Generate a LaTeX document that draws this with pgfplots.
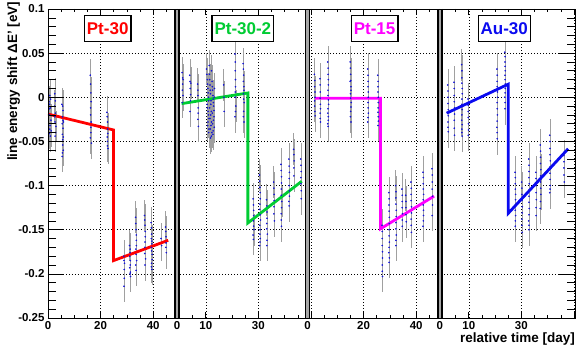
\documentclass[border=0pt]{standalone}
\usepackage{fontspec}
\setmainfont{Liberation Sans}
\usepackage{pgfplots}
\pgfplotsset{compat=1.18}
\definecolor{cRed}{RGB}{255,0,0}
\definecolor{cGreen}{RGB}{0,204,51}
\definecolor{cMag}{RGB}{255,0,255}
\definecolor{cBlue}{RGB}{10,10,240}
\definecolor{cDot}{RGB}{20,20,215}
\definecolor{cErr}{RGB}{160,160,160}

\pgfplotsset{
  pts/.style={only marks, mark=*, mark size=0.6pt, color=cDot,
    mark options={draw=none, fill=cDot},
    error bars/.cd, y dir=both, y fixed=0.018, error mark=none,
    error bar style={cErr, line width=0.35pt}},
  fit/.style={line width=2.8pt, line join=miter},
}
\tikzset{
  lbl/.style={draw=black, line width=1.2pt, fill=white, inner xsep=2.5pt,
    minimum height=26pt, font=\fontsize{17}{19}\selectfont\bfseries},
  sep/.style={line width=1.8pt},
}

\begin{document}
\begin{tikzpicture}
\begin{axis}[
  scale only axis, width=527pt, height=309pt,
  xmin=0, xmax=200.4, ymin=-0.25, ymax=0.1,
  xtick={0,20,40,60,80,100,120,140,160,180,200},
  xticklabels={0,20,40,10,30,,20,40,10,30,},
  minor x tick num=3,
  extra x ticks={49.05,98.67,148.95},
  extra x tick labels={0,0,0},
  extra x tick style={grid=none},
  ytick={-0.25,-0.2,-0.15,-0.1,-0.05,0,0.05,0.1},
  yticklabels={-0.25,-0.2,-0.15,-0.1,-0.05,0,0.05,0.1},
  minor y tick num=4,
  tick align=inside,
  major tick length=6pt, minor tick length=3pt,
  xmajorgrids, ymajorgrids,
  major grid style={black, line width=0.5pt, dash pattern=on 0.8pt off 2.2pt},
  tick style={black, line width=0.6pt},
  axis line style={line width=0.8pt},
  ticklabel style={font=\fontsize{11.5}{13}\selectfont\bfseries},
]
% panel 1
\addplot[pts] coordinates {
 (0.4,-0.005) (0.6,-0.020) (0.8,-0.032) (0.5,-0.041) (0.9,-0.012) (1.1,-0.026) (0.7,0.002) (1.2,-0.038)
 (2.5,-0.010) (2.7,-0.028) (2.9,-0.040) (2.6,0.004) (2.8,-0.018) (3.0,-0.033)
 (5.3,-0.008) (5.5,-0.022) (5.7,-0.035) (5.6,-0.048) (5.8,-0.060) (5.4,-0.067) (5.9,-0.028) (5.5,-0.042) (5.7,-0.015) (5.6,-0.054)
 (16.1,0.025) (16.3,0.005) (16.2,-0.012) (16.4,-0.028) (16.3,-0.040) (16.5,-0.052) (16.2,-0.020)
 (22.4,-0.017) (22.6,-0.028) (22.7,-0.036) (22.5,-0.045) (22.8,-0.058) (22.6,-0.050)
 (28.8,-0.180) (29.0,-0.195) (28.9,-0.214) (29.1,-0.188)
 (31.0,-0.168) (31.2,-0.176) (31.3,-0.185) (31.1,-0.193) (31.4,-0.203) (31.2,-0.172) (31.3,-0.198)
 (33.3,-0.136) (33.5,-0.150) (33.6,-0.162) (33.4,-0.172) (33.7,-0.185) (33.5,-0.196) (33.6,-0.168)
 (36.7,-0.134) (36.9,-0.145) (37.0,-0.158) (36.8,-0.170) (37.1,-0.183) (36.9,-0.190)
 (39.2,-0.142) (39.4,-0.155) (39.5,-0.163) (39.3,-0.170) (39.6,-0.178) (39.4,-0.188) (39.5,-0.195) (39.3,-0.160)
 (43.0,-0.160) (43.2,-0.168)
 (44.7,-0.147) (44.9,-0.158) (44.8,-0.170) (45.0,-0.176)
 (0.5,-0.013) (0.7,-0.036) (0.9,-0.044) (0.6,-0.008) (1.0,-0.002)
 (2.6,-0.022) (2.8,-0.004) (2.7,-0.044)
 (5.4,-0.030) (5.6,-0.010) (5.8,-0.045) (5.5,-0.063) (5.7,-0.026)
 (16.2,0.015) (16.4,-0.005) (16.3,-0.034) (16.1,-0.046)
 (22.5,-0.022) (22.7,-0.041) (22.6,-0.055)
 (28.9,-0.185) (29.0,-0.205)
 (31.1,-0.180) (31.3,-0.190) (31.2,-0.200)
 (33.4,-0.143) (33.6,-0.156) (33.5,-0.178) (33.4,-0.190)
 (36.8,-0.139) (37.0,-0.152) (36.9,-0.164) (36.8,-0.177)
 (39.3,-0.148) (39.5,-0.166) (39.4,-0.174) (39.6,-0.184) (39.3,-0.192)
 (44.8,-0.152) (44.9,-0.165)
};
% panel 2
\addplot[pts] coordinates {
 (51.0,0.028) (51.2,0.015) (51.3,0.002) (51.1,-0.006) (51.4,0.020)
 (53.9,0.025) (54.1,0.010) (54.2,-0.004) (54.0,-0.016) (54.3,0.016)
 (56.9,0.015) (57.0,0.002) (57.1,-0.012) (57.0,-0.025) (57.2,-0.033)
 (60.3,0.032) (60.6,0.020) (60.8,0.010) (61.0,0.000) (60.5,-0.008) (60.9,-0.016) (61.2,-0.024) (60.7,-0.032) (61.1,-0.040)
 (61.4,0.026) (61.6,0.014) (61.8,0.004) (62.0,-0.004) (61.5,-0.012) (61.9,-0.020) (62.2,-0.028) (61.7,-0.036) (62.1,-0.044)
 (62.4,0.018) (62.6,0.008) (62.8,-0.002) (63.0,-0.010) (62.5,-0.018) (62.9,-0.026) (63.2,-0.034) (62.7,-0.042) (63.3,0.010) (63.1,-0.015)
 (66.8,0.014) (66.9,0.000) (67.0,-0.016)
 (71.1,0.049) (71.2,0.030) (71.3,0.012) (71.2,0.000) (71.4,-0.010) (71.1,-0.022)
 (74.2,0.038) (74.4,0.025) (74.5,0.012) (74.3,0.004) (74.6,-0.006) (74.4,-0.016) (74.5,-0.028) (74.3,0.018)
 (78.0,-0.115) (78.2,-0.128) (78.1,-0.140) (78.3,-0.150) (78.1,-0.161)
 (80.4,-0.088) (80.6,-0.102) (80.7,-0.115) (80.5,-0.127) (80.8,-0.139) (80.6,-0.150) (80.7,-0.160) (80.5,-0.168)
 (83.1,-0.116) (83.3,-0.130) (83.2,-0.143) (83.4,-0.155) (83.2,-0.168)
 (85.8,-0.096) (86.0,-0.110) (85.9,-0.124) (86.1,-0.140)
 (88.6,-0.076) (88.8,-0.090) (88.7,-0.104) (88.9,-0.118) (88.7,-0.132) (88.8,-0.146)
 (91.6,-0.070) (91.8,-0.085) (91.7,-0.100) (91.8,-0.112) (91.7,-0.123)
 (93.4,-0.059) (93.6,-0.072) (93.5,-0.089)
 (96.1,-0.070) (96.3,-0.084) (96.2,-0.098) (96.3,-0.115)
 (51.2,0.022) (51.1,0.008)
 (54.0,0.018) (54.2,0.003)
 (57.0,0.008) (57.1,-0.018)
 (60.4,0.026) (60.7,0.015) (60.9,0.005) (61.1,-0.004) (60.6,-0.012) (61.0,-0.020) (60.8,-0.028) (61.2,-0.036)
 (61.5,0.020) (61.7,0.008) (61.9,-0.008) (62.1,-0.016) (61.6,-0.024) (62.0,-0.032) (62.3,-0.040)
 (62.5,0.012) (62.7,0.002) (62.9,-0.006) (63.1,-0.022) (62.6,-0.030) (62.8,-0.038) (63.2,0.000) (62.2,0.030) (61.3,0.036) (61.8,-0.046)
 (71.2,0.040) (71.3,0.020) (71.2,0.006) (71.3,-0.016)
 (74.3,0.032) (74.5,0.008) (74.4,-0.002) (74.3,-0.022)
 (78.1,-0.122) (78.2,-0.134) (78.2,-0.146) (78.0,-0.156)
 (80.5,-0.095) (80.7,-0.108) (80.6,-0.121) (80.7,-0.133) (80.5,-0.145) (80.6,-0.155) (80.6,-0.164)
 (83.2,-0.123) (83.3,-0.137) (83.2,-0.149) (83.3,-0.162)
 (85.9,-0.103) (86.0,-0.117) (85.9,-0.132)
 (88.7,-0.083) (88.8,-0.097) (88.7,-0.111) (88.8,-0.125) (88.7,-0.139)
 (91.7,-0.078) (91.7,-0.092) (91.8,-0.106) (91.6,-0.118)
 (93.5,-0.065) (93.5,-0.080)
 (96.2,-0.077) (96.2,-0.091) (96.3,-0.106)
};
% panel 3
\addplot[pts] coordinates {
 (101.3,0.026) (101.4,0.012) (101.5,0.000) (101.4,-0.010) (101.6,-0.021)
 (103.4,0.021) (103.5,0.006) (103.6,-0.008) (103.5,-0.018) (103.6,-0.028)
 (106.4,0.040) (106.5,0.026) (106.6,0.014) (106.5,0.002) (106.7,-0.008) (106.4,-0.018) (106.6,-0.026) (106.5,-0.033)
 (114.9,0.040) (115.1,0.026) (115.2,0.012) (115.0,0.004) (115.3,-0.006) (115.1,-0.016) (115.2,-0.028) (114.9,0.018)
 (121.6,0.032) (121.7,0.018) (121.8,0.006) (121.7,-0.006) (121.8,-0.018) (121.6,-0.028)
 (125.4,0.025) (125.5,0.012) (125.6,0.000) (125.5,-0.012) (125.6,-0.022) (125.5,-0.032)
 (127.0,-0.145) (127.1,-0.160) (127.2,-0.175) (127.1,-0.190) (127.2,-0.203)
 (129.6,-0.108) (129.7,-0.122) (129.8,-0.136) (129.7,-0.150) (129.8,-0.164) (129.6,-0.176) (129.7,-0.187)
 (132.2,-0.100) (132.3,-0.114) (132.4,-0.128) (132.3,-0.142) (132.4,-0.156) (132.3,-0.168)
 (134.6,-0.104) (134.7,-0.118) (134.8,-0.132) (134.7,-0.146)
 (136.0,-0.111) (136.1,-0.125) (136.2,-0.141)
 (138.0,-0.096) (138.1,-0.110) (138.2,-0.124) (138.1,-0.138) (138.2,-0.153)
 (142.6,-0.085) (142.7,-0.098) (142.8,-0.110) (142.7,-0.122) (142.8,-0.134) (142.6,-0.146) (142.7,-0.104)
 (146.0,-0.081) (146.1,-0.096) (146.2,-0.112) (146.1,-0.134)
 (101.4,0.019) (101.5,0.006) (101.4,-0.004) (101.5,-0.016)
 (103.5,0.014) (103.5,-0.001) (103.6,-0.013) (103.5,-0.024)
 (106.5,0.033) (106.6,0.020) (106.5,0.008) (106.6,-0.003) (106.5,-0.013) (106.6,-0.022) (106.4,-0.030)
 (115.0,0.033) (115.1,0.019) (115.2,0.008) (115.1,-0.001) (115.2,-0.011) (115.0,-0.022)
 (121.7,0.025) (121.7,0.012) (121.8,0.000) (121.7,-0.012) (121.7,-0.023)
 (125.5,0.018) (125.5,0.006) (125.6,-0.006) (125.5,-0.017) (125.6,-0.027)
 (127.1,-0.152) (127.1,-0.168) (127.2,-0.182) (127.1,-0.197)
 (129.7,-0.115) (129.7,-0.129) (129.8,-0.143) (129.7,-0.157) (129.7,-0.170) (129.8,-0.182)
 (132.3,-0.107) (132.3,-0.121) (132.4,-0.135) (132.3,-0.149) (132.3,-0.162)
 (134.7,-0.111) (134.7,-0.125) (134.7,-0.139)
 (136.1,-0.118) (136.1,-0.133)
 (138.1,-0.103) (138.1,-0.117) (138.2,-0.131) (138.1,-0.145)
 (142.7,-0.091) (142.7,-0.116) (142.8,-0.128) (142.7,-0.140)
 (146.1,-0.088) (146.1,-0.104) (146.2,-0.122)
};
% panel 4
\addplot[pts] coordinates {
 (152.0,0.014) (152.1,0.000) (152.2,-0.014) (152.1,-0.028) (152.2,-0.039)
 (154.4,0.017) (154.5,0.002) (154.6,-0.012) (154.5,-0.026) (154.6,-0.043)
 (157.3,0.037) (157.4,0.022) (157.5,0.010) (157.4,-0.002) (157.5,-0.014) (157.3,-0.026) (157.4,-0.036) (157.5,-0.044)
 (159.7,-0.002) (159.8,-0.016) (159.9,-0.030) (159.8,-0.043)
 (170.7,0.032) (170.8,0.018) (170.9,0.006) (170.8,-0.006) (170.9,-0.020) (170.7,-0.034) (170.8,-0.047)
 (173.7,0.051) (173.8,0.040) (173.9,0.030) (173.8,0.020) (173.9,0.010) (173.7,0.000) (173.8,-0.013)
 (177.6,-0.085) (177.7,-0.098) (177.8,-0.110) (177.7,-0.122) (177.8,-0.134) (177.7,-0.146)
 (180.1,-0.096) (180.2,-0.110) (180.3,-0.124) (180.2,-0.138) (180.3,-0.153)
 (182.8,-0.070) (182.9,-0.084) (183.0,-0.098) (182.9,-0.112) (183.0,-0.126) (182.8,-0.140) (182.9,-0.150)
 (185.5,-0.085) (185.6,-0.100) (185.7,-0.116) (185.6,-0.134)
 (187.2,-0.054) (187.3,-0.068) (187.4,-0.082) (187.3,-0.096) (187.4,-0.110) (187.2,-0.126) (187.3,-0.075)
 (190.8,-0.043) (190.9,-0.058) (191.0,-0.072) (190.9,-0.086) (191.0,-0.100) (190.8,-0.108)
 (196.1,-0.066) (196.2,-0.080) (196.3,-0.096)
 (152.1,0.007) (152.1,-0.007) (152.2,-0.021) (152.1,-0.034)
 (154.5,0.010) (154.5,-0.005) (154.6,-0.019) (154.5,-0.035)
 (157.4,0.030) (157.4,0.016) (157.5,0.004) (157.4,-0.008) (157.4,-0.020) (157.5,-0.031) (157.4,-0.040)
 (159.8,-0.009) (159.8,-0.023) (159.9,-0.037)
 (170.8,0.025) (170.8,0.012) (170.9,0.000) (170.8,-0.013) (170.8,-0.027) (170.8,-0.040)
 (173.8,0.046) (173.8,0.035) (173.8,0.025) (173.9,0.015) (173.8,0.005) (173.8,-0.006)
 (177.7,-0.091) (177.7,-0.104) (177.8,-0.116) (177.7,-0.128) (177.7,-0.140)
 (180.2,-0.103) (180.2,-0.117) (180.3,-0.131) (180.2,-0.145)
 (182.9,-0.077) (182.9,-0.091) (183.0,-0.105) (182.9,-0.119) (182.9,-0.133) (182.9,-0.145)
 (185.6,-0.092) (185.6,-0.108) (185.6,-0.125)
 (187.3,-0.061) (187.3,-0.089) (187.4,-0.103) (187.3,-0.118)
 (190.9,-0.050) (190.9,-0.065) (190.9,-0.079) (190.9,-0.093) (190.9,-0.104)
 (196.2,-0.073) (196.2,-0.088)
};
% fitted steps
\addplot[fit, cRed] coordinates {(0,-0.019) (24.9,-0.037) (24.9,-0.185) (45.7,-0.162)};
\addplot[fit, cGreen] coordinates {(50.8,-0.0072) (76.0,0.0049) (76.0,-0.1424) (96.5,-0.0951)};
\addplot[fit, cMag] coordinates {(101.5,-0.001) (126.4,-0.001) (126.4,-0.149) (146.8,-0.112)};
\addplot[fit, cBlue] coordinates {(151.6,-0.018) (175.0,0.0148) (175.0,-0.1315) (197.8,-0.0583)};
% panel separators
\fill[black!35] (axis cs:48.3,-0.25) rectangle (axis cs:49.8,0.1);
\draw[sep] (axis cs:48.3,-0.25) -- (axis cs:48.3,0.1);
\draw[sep] (axis cs:49.8,-0.25) -- (axis cs:49.8,0.1);
\fill[black!35] (axis cs:97.92,-0.25) rectangle (axis cs:99.42,0.1);
\draw[sep] (axis cs:97.92,-0.25) -- (axis cs:97.92,0.1);
\draw[sep] (axis cs:99.42,-0.25) -- (axis cs:99.42,0.1);
\fill[black!35] (axis cs:148.2,-0.25) rectangle (axis cs:149.7,0.1);
\draw[sep] (axis cs:148.2,-0.25) -- (axis cs:148.2,0.1);
\draw[sep] (axis cs:149.7,-0.25) -- (axis cs:149.7,0.1);
\node[lbl, text=cRed] at (axis cs:22.7,0.078) {Pt-30};
\node[lbl, text=cGreen] at (axis cs:74.1,0.0775) {Pt-30-2};
\node[lbl, text=cMag] at (axis cs:124.2,0.0775) {Pt-15};
\node[lbl, text=cBlue] at (axis cs:173.5,0.0775) {Au-30};
\end{axis}
% longer y ticks, as in the original frame
\begin{axis}[
  scale only axis, width=527pt, height=309pt,
  xmin=0, xmax=200.4, ymin=-0.25, ymax=0.1,
  xtick=\empty,
  ytick={-0.25,-0.2,-0.15,-0.1,-0.05,0,0.05,0.1},
  yticklabels={},
  minor y tick num=4,
  tick align=inside,
  major tick length=16pt, minor tick length=8pt,
  tick style={black, line width=0.6pt},
  axis line style={line width=0.8pt},
]
\end{axis}
\node[rotate=90, anchor=east, inner sep=0pt, font=\fontsize{13.5}{15}\selectfont\bfseries]
  at ([xshift=-34.3pt, yshift=7.3pt]current axis.north west) {line energy shift ΔE' [eV]};
\node[anchor=base east, inner sep=0pt, font=\fontsize{13.5}{15}\selectfont\bfseries]
  at ([yshift=-25pt]current axis.south east) {relative time [day]};
\pgfresetboundingbox
\path ([shift={(-48pt,-34pt)}]current axis.south west) rectangle ([shift={(6pt,9pt)}]current axis.north east);
\end{tikzpicture}
\end{document}
